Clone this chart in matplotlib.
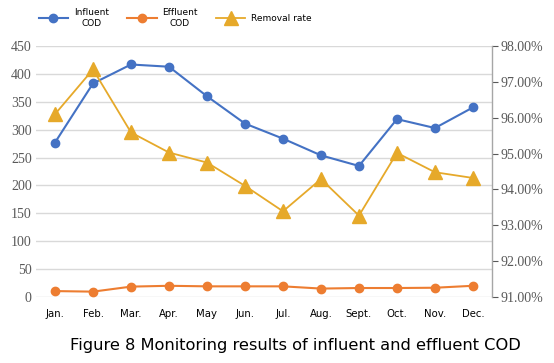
import matplotlib
matplotlib.use("Agg")
import matplotlib.pyplot as plt
from matplotlib.ticker import FuncFormatter

months = ["Jan.", "Feb.", "Mar.", "Apr.", "May", "Jun.", "Jul.", "Aug.", "Sept.", "Oct.", "Nov.", "Dec."]
influent = [277, 383, 417, 413, 360, 311, 284, 254, 235, 319, 303, 340]
effluent = [10.5, 9.5, 18.5, 20, 19, 19, 19, 15, 16, 16, 16.5, 20]
removal = [96.10, 97.35, 95.59, 95.03, 94.75, 94.10, 93.39, 94.29, 93.27, 95.02, 94.48, 94.32]
left_ticks = [0, 50, 100, 150, 200, 250, 300, 350, 400, 450]
right_ticks = [91, 92, 93, 94, 95, 96, 97, 98]

blue = "#4472C4"
orange = "#ED7D31"
gold = "#E6A92A"
grey = "#595959"

fig = plt.figure(figsize=(5.54, 3.63), dpi=100)
ax = fig.add_axes([0.065, 0.182, 0.823, 0.691])
ax2 = ax.twinx()

x = list(range(len(months)))
l1, = ax.plot(x, influent, color=blue, marker="o", markersize=6, linewidth=1.5, label="Influent\nCOD", zorder=3)
l2, = ax.plot(x, effluent, color=orange, marker="o", markersize=6, linewidth=1.5, label="Effluent\nCOD", zorder=3)
l3, = ax2.plot(x, removal, color=gold, marker="^", markersize=10, linewidth=1.3, label="Removal rate", zorder=3)

ax.set_xlim(-0.5, 11.5)
ax.set_ylim(0, 450)
ax2.set_ylim(91, 98)
ax.set_yticks(left_ticks)
ax2.set_yticks(right_ticks)
ax2.yaxis.set_major_formatter(FuncFormatter(lambda v, p: f"{v:.2f}%"))

ax.set_xticks(x)
ax.set_xticklabels(months, fontsize=7.3, family="DejaVu Sans")
ax.tick_params(axis="x", length=0, pad=9)
ax.tick_params(axis="y", length=0, labelsize=10, labelcolor=grey, pad=3)
for t in ax.get_yticklabels():
    t.set_family("Liberation Serif")
ax2.tick_params(axis="y", length=4, width=0.8, color=grey, labelsize=10, labelcolor=grey, pad=2)
for t in ax2.get_yticklabels():
    t.set_family("Liberation Serif")

ax.grid(axis="y", color="#D9D9D9", linewidth=1)
ax.set_axisbelow(True)
for s in ["left", "top", "bottom", "right"]:
    ax.spines[s].set_visible(False)
for s in ["left", "top", "bottom"]:
    ax2.spines[s].set_visible(False)
ax2.spines["right"].set_color("#A6A6A6")
ax2.spines["right"].set_linewidth(1)

leg = fig.legend(handles=[l1, l2, l3], loc="upper left", bbox_to_anchor=(0.055, 1.0), ncol=3,
                 frameon=False, fontsize=6.5, handlelength=3.3, columnspacing=2.0, handletextpad=0.6)
for t in leg.get_texts():
    t.set_multialignment("center")

fig.text(0.534, 0.047, "Figure 8 Monitoring results of influent and effluent COD",
         ha="center", va="center", fontsize=11.7, family="DejaVu Sans")

fig.savefig("out.png", dpi=100)
